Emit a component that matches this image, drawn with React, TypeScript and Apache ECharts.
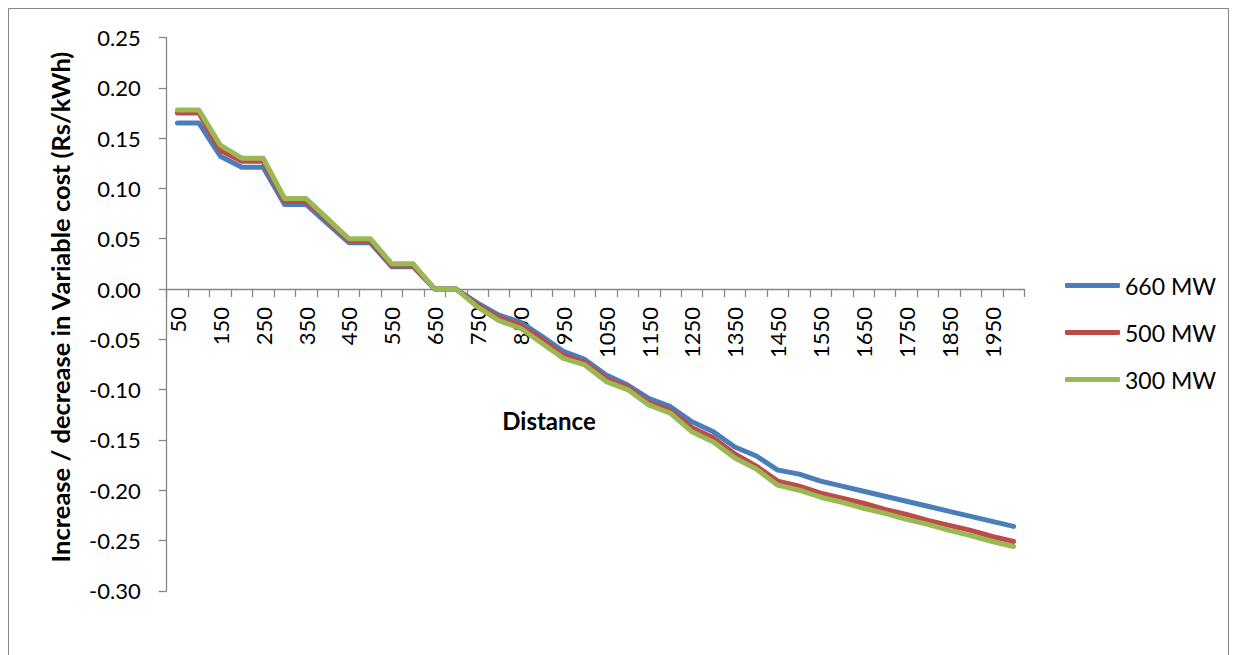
import React, { useEffect, useRef } from "react";
import * as echarts from "echarts";

const distances = [
  "50", "100", "150", "200", "250", "300", "350", "400", "450", "500",
  "550", "600", "650", "700", "750", "800", "850", "900", "950", "1000",
  "1050", "1100", "1150", "1200", "1250", "1300", "1350", "1400", "1450", "1500",
  "1550", "1600", "1650", "1700", "1750", "1800", "1850", "1900", "1950", "2000",
];

const mw660 = [
  0.165, 0.165, 0.132, 0.121, 0.121, 0.084, 0.084, 0.065, 0.046, 0.046,
  0.022, 0.022, 0.0, 0.0, -0.014, -0.026, -0.033, -0.047, -0.062, -0.070,
  -0.0855, -0.0955, -0.109, -0.117, -0.132, -0.142, -0.157, -0.166, -0.180, -0.184,
  -0.191, -0.196, -0.201, -0.206, -0.211, -0.216, -0.221, -0.226, -0.231, -0.236,
];

const mw500 = [
  0.175, 0.175, 0.138, 0.127, 0.127, 0.087, 0.087, 0.068, 0.048, 0.048,
  0.023, 0.023, 0.0, 0.0, -0.016, -0.0285, -0.036, -0.050, -0.066, -0.073,
  -0.089, -0.098, -0.113, -0.121, -0.138, -0.148, -0.164, -0.176, -0.191, -0.196,
  -0.203, -0.208, -0.213, -0.219, -0.224, -0.230, -0.235, -0.240, -0.246, -0.251,
];

const mw300 = [
  0.178, 0.178, 0.143, 0.130, 0.130, 0.090, 0.090, 0.070, 0.050, 0.050,
  0.025, 0.025, 0.0, 0.0, -0.018, -0.0315, -0.039, -0.054, -0.069, -0.0755,
  -0.092, -0.100, -0.1155, -0.1235, -0.142, -0.152, -0.168, -0.179, -0.195, -0.200,
  -0.207, -0.212, -0.218, -0.223, -0.229, -0.234, -0.240, -0.245, -0.251, -0.256,
];

const seriesNames = ["660 MW", "500 MW", "300 MW"];
const seriesColors = ["#4A7EBB", "#BE4B48", "#98B954"];

const FONT = "Lato";
const Y_MIN = -0.3;
const Y_MAX = 0.25;
const GRID_TOP = 37.5;
const GRID_BOTTOM_PX = 590.8;

export default function App() {
  const ref = useRef<HTMLDivElement>(null);

  useEffect(() => {
    if (!ref.current) return;
    const chart = echarts.init(ref.current, undefined, { renderer: "svg" });
    const dataSets = [mw660, mw500, mw300];
    // position of the zero line, so the x axis (with its labels) sits there
    const zeroY = GRID_TOP + ((Y_MAX - 0) / (Y_MAX - Y_MIN)) * (GRID_BOTTOM_PX - GRID_TOP);
    chart.setOption({
      animation: false,
      backgroundColor: "#ffffff",
      textStyle: { fontFamily: FONT },
      grid: { left: 166.7, right: 212.7, top: GRID_TOP, bottom: 655 - GRID_BOTTOM_PX, containLabel: false },
      legend: {
        orient: "vertical",
        left: 1060,
        top: 269,
        itemWidth: 55,
        itemHeight: 5,
        itemGap: 24,
        icon: "roundRect",
        textStyle: { fontFamily: FONT, fontSize: 23, color: "#000000" },
        data: seriesNames,
      },
      xAxis: {
        type: "category",
        data: distances,
        boundaryGap: true,
        position: "bottom",
        offset: -(GRID_BOTTOM_PX - zeroY),
        axisLine: { onZero: false, lineStyle: { color: "#868686", width: 1.3 } },
        axisTick: { show: true, interval: 0, length: 8, lineStyle: { color: "#868686", width: 1.3 } },
        axisLabel: {
          interval: 1,
          rotate: 90,
          margin: 18,
          fontFamily: FONT,
          fontSize: 22,
          color: "#000000",
        },
        splitLine: { show: false },
      },
      yAxis: {
        type: "value",
        min: Y_MIN,
        max: Y_MAX,
        interval: 0.05,
        axisLine: { show: true, lineStyle: { color: "#868686", width: 1.3 } },
        axisTick: { show: true, length: 8, lineStyle: { color: "#868686", width: 1.3 } },
        axisLabel: {
          margin: 26,
          fontFamily: FONT,
          fontSize: 22,
          color: "#000000",
          formatter: (v: number) => (Math.abs(v) < 1e-9 ? "0.00" : v.toFixed(2)),
        },
        splitLine: { show: false },
      },
      graphic: [
        {
          type: "rect",
          shape: { x: 8.5, y: 8.5, width: 1220, height: 700 },
          style: { fill: "none", stroke: "#868686", lineWidth: 1 },
          silent: true,
          z: -10,
        },
        {
          type: "text",
          x: 60,
          y: 307,
          rotation: Math.PI / 2,
          style: {
            text: "Increase / decrease in Variable cost (Rs/kWh)",
            fontFamily: FONT,
            fontWeight: "bold",
            fontSize: 25.5,
            fill: "#000000",
            align: "center",
            verticalAlign: "middle",
          },
        },
        {
          type: "text",
          x: 549,
          y: 420,
          style: {
            text: "Distance",
            fontFamily: FONT,
            fontWeight: "bold",
            fontSize: 24,
            fill: "#000000",
            align: "center",
            verticalAlign: "middle",
          },
        },
      ],
      series: seriesNames.map((name, i) => ({
        name,
        type: "line",
        data: dataSets[i],
        symbol: "none",
        color: seriesColors[i],
        lineStyle: { width: 5, color: seriesColors[i], cap: "round", join: "round" },
        itemStyle: { color: seriesColors[i] },
        z: 2 + i,
      })),
    });
    return () => chart.dispose();
  }, []);

  return (
    <div
      ref={ref}
      style={{ position: "fixed", left: 0, top: 0, width: 1237, height: 655, background: "#ffffff" }}
    />
  );
}
